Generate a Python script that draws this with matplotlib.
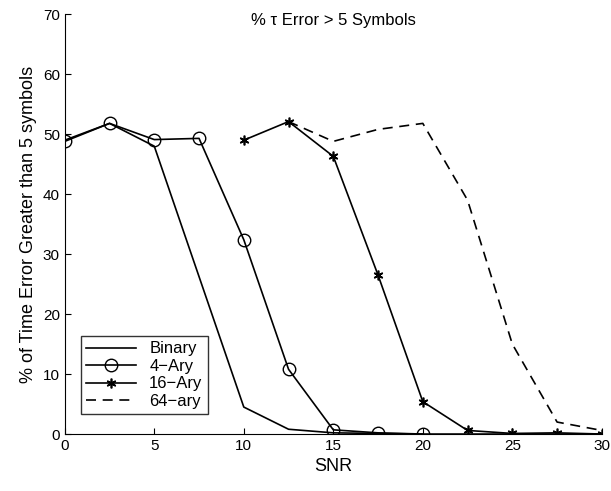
import numpy as np
import matplotlib
matplotlib.use("Agg")
import matplotlib.pyplot as plt

plt.rcParams["font.family"] = ["Liberation Sans", "DejaVu Sans"]

binary_x = [0, 2.5, 5, 10, 12.5, 15, 17.5, 20, 22.5, 25, 27.5, 30]
binary_y = [49, 51.8, 48, 4.5, 0.8, 0.2, 0.1, 0, 0, 0, 0, 0]

ary4_x = [0, 2.5, 5, 7.5, 10, 12.5, 15, 17.5, 20]
ary4_y = [48.8, 51.8, 49.1, 49.3, 32.4, 10.8, 0.7, 0.2, 0]

ary16_x = [10, 12.5, 15, 17.5, 20, 22.5, 25, 27.5, 30]
ary16_y = [49, 52.1, 46.3, 26.5, 5.4, 0.6, 0.1, 0.2, 0]

ary64_x = [12.5, 15, 17.5, 20, 22.5, 25, 27.5, 30]
ary64_y = [52.1, 48.8, 50.8, 51.8, 39, 15, 2, 0.6]

fig = plt.figure(figsize=(6.11, 4.91), dpi=100)
ax = fig.add_axes([0.106, 0.116, 0.879, 0.855])

ax.plot(binary_x, binary_y, "k-", lw=1.2, label="Binary")
ax.plot(ary4_x, ary4_y, "k-", lw=1.2, marker="o", ms=9, mfc="none", mew=1.0, label="4\u2212Ary")
ax.plot(ary16_x, ary16_y, "k-", lw=1.2, marker=(6, 2, 0), ms=7, mew=1.2, label="16\u2212Ary")
ax.plot(ary64_x, ary64_y, "k--", lw=1.2, dashes=(6, 4), label="64\u2212ary")

ax.set_xlim(0, 30)
ax.set_ylim(0, 70)
ax.set_xticks([0, 5, 10, 15, 20, 25, 30])
ax.set_yticks([0, 10, 20, 30, 40, 50, 60, 70])
ax.spines["top"].set_visible(False)
ax.spines["right"].set_visible(False)
ax.tick_params(direction="in", length=4, labelsize=11)

ax.text(15, 69, "% \u03c4 Error > 5 Symbols", ha="center", va="center", fontsize=12)
ax.set_xlabel("SNR", fontsize=13)
ax.set_ylabel("% of Time Error Greater than 5 symbols", fontsize=13)

leg = ax.legend(loc="lower left", bbox_to_anchor=(0.03, 0.048), fontsize=12,
                frameon=True, fancybox=False, edgecolor="k", handlelength=3,
                borderpad=0.3, labelspacing=0.15, borderaxespad=0)
leg.get_frame().set_linewidth(1.0)

fig.savefig("out.png", dpi=100)
